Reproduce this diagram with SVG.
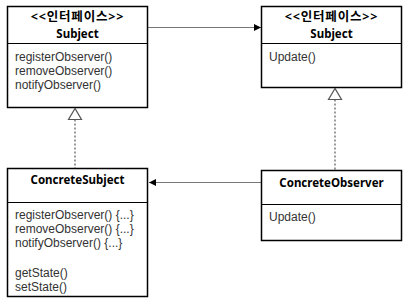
<svg xmlns="http://www.w3.org/2000/svg" width="410" height="306" viewBox="0 0 410 306">
<style>
.box{fill:#fff;stroke:#000;stroke-width:1.5}
.div{stroke:#000;stroke-width:1.2}
.t{font-family:"Noto Sans","Noto Sans CJK KR",sans-serif;font-size:11.5px;font-weight:bold;fill:#000;text-anchor:middle}
.k{font-size:12.5px;letter-spacing:0.8px}
.m{font-family:"Liberation Sans","Noto Sans CJK KR",sans-serif;font-size:12px;fill:#333}
.conn{stroke:#777;stroke-width:1.2;fill:none}
.dot{stroke:#555;stroke-width:1.2;stroke-dasharray:2,2;fill:none}
.tri{fill:#fff;stroke:#555;stroke-width:1.2}
</style>
<defs>
<marker id="ah" markerWidth="8" markerHeight="8" refX="7" refY="4" orient="auto" markerUnits="userSpaceOnUse">
<path d="M0,0.5 L7,4 L0,7.5 Z" fill="#000"/>
</marker>
</defs>
<g id="connectors">
<line class="conn" x1="148" y1="27.5" x2="261" y2="27.5" marker-end="url(#ah)"/>
<line class="conn" x1="262" y1="182.5" x2="149" y2="182.5" marker-end="url(#ah)"/>
<line class="dot" x1="75" y1="119.5" x2="75" y2="168"/>
<polygon class="tri" points="75,108.5 68.5,119.5 81.5,119.5"/>
<line class="dot" x1="335" y1="99.5" x2="335" y2="170"/>
<polygon class="tri" points="335,88.5 328.5,99.5 341.5,99.5"/>
</g>
<g id="subject">
<rect class="box" x="7.5" y="6.5" width="140" height="101"/>
<line class="div" x1="7.5" y1="43.5" x2="147.5" y2="43.5"/>
<text class="t k" x="77.5" y="21">&lt;&lt;인터페이스&gt;&gt;</text>
<text class="t" x="77.5" y="37.5">Subject</text>
<text class="m"><tspan x="15" y="61">registerObserver()</tspan><tspan x="15" y="75">removeObserver()</tspan><tspan x="15" y="89">notifyObserver()</tspan></text>
</g>
<g id="observer">
<rect class="box" x="261.5" y="6.5" width="140" height="81"/>
<line class="div" x1="261.5" y1="43.5" x2="401.5" y2="43.5"/>
<text class="t k" x="331.5" y="21">&lt;&lt;인터페이스&gt;&gt;</text>
<text class="t" x="331.5" y="37.5">Subject</text>
<text class="m" x="269" y="61">Update()</text>
</g>
<g id="concreteSubject">
<rect class="box" x="7.5" y="168.5" width="140" height="128"/>
<line class="div" x1="7.5" y1="202.5" x2="147.5" y2="202.5"/>
<text class="t" x="77.5" y="183.5">ConcreteSubject</text>
<text class="m"><tspan x="15" y="219">registerObserver() {...}</tspan><tspan x="15" y="233">removeObserver() {...}</tspan><tspan x="15" y="247">notifyObserver() {...}</tspan><tspan x="15" y="277">getState()</tspan><tspan x="15" y="291">setState()</tspan></text>
</g>
<g id="concreteObserver">
<rect class="box" x="261.5" y="170.5" width="140" height="70"/>
<line class="div" x1="261.5" y1="204.5" x2="401.5" y2="204.5"/>
<text class="t" x="331.5" y="186.5">ConcreteObserver</text>
<text class="m" x="269" y="221">Update()</text>
</g>
</svg>
